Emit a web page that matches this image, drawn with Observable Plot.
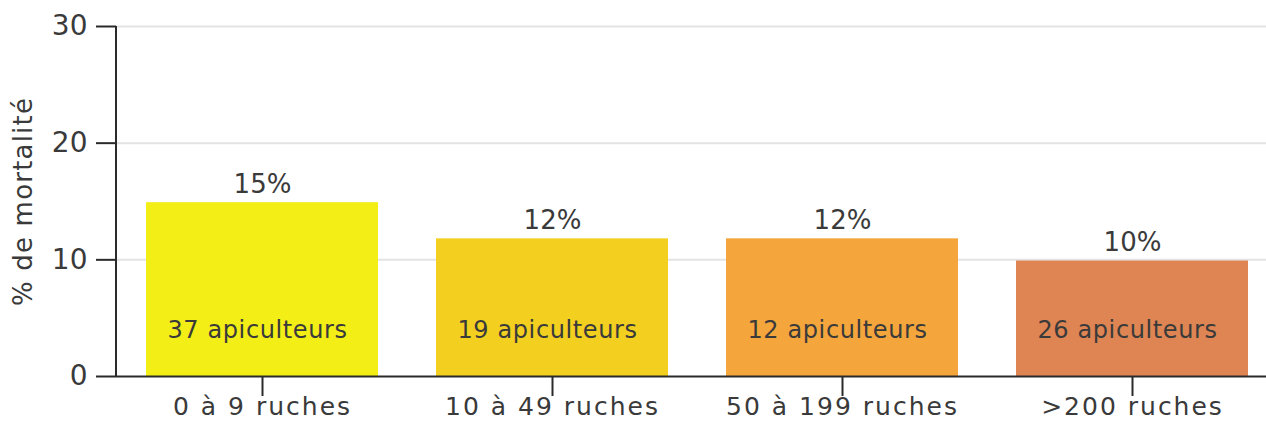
<!DOCTYPE html>
<html>
<head>
<meta charset="utf-8">
<script src="https://cdn.jsdelivr.net/npm/d3@7"></script>
<script src="https://cdn.jsdelivr.net/npm/@observablehq/plot@0.6"></script>
<style>
  html, body { margin: 0; padding: 0; background: #fff; }
  #chart svg { display: block; }
  #chart g[aria-label="x-axis tick label"] text { letter-spacing: 2px; }
  #chart g[aria-label="y-axis label"] text { font-size: 26px; letter-spacing: 1.2px; }
  #chart .count text { letter-spacing: 0.6px; }
</style>
</head>
<body>
<div id="chart"></div>
<script>
const categories = ["0 à 9 ruches", "10 à 49 ruches", "50 à 199 ruches", ">200 ruches"];
const mortality = [14.9, 11.8, 11.8, 9.9];
const valueLabels = ["15%", "12%", "12%", "10%"];
const countLabels = ["37 apiculteurs", "19 apiculteurs", "12 apiculteurs", "26 apiculteurs"];
const colors = ["#f4ee17", "#f3cf20", "#f4a63d", "#de8553"];
const yTicks = [0, 10, 20, 30];

const data = categories.map((c, i) => ({
  cat: c, value: mortality[i], label: valueLabels[i], count: countLabels[i]
}));

const font = "'DejaVu Sans', 'Noto Sans', sans-serif";
const ink = "#3a3a3a";

const leftLine = (index, scales, values, dim) => {
  const ns = "http://www.w3.org/2000/svg";
  const l = document.createElementNS(ns, "line");
  l.setAttribute("x1", dim.marginLeft);
  l.setAttribute("x2", dim.marginLeft);
  l.setAttribute("y1", scales.y(0));
  l.setAttribute("y2", scales.y(30));
  l.setAttribute("stroke", "#2a2a2a");
  l.setAttribute("stroke-width", 2);
  return l;
};

const chart = Plot.plot({
  width: 1266,
  height: 423,
  marginLeft: 116,
  marginRight: -11,
  marginTop: 26,
  marginBottom: 47,
  style: { fontFamily: font, fontSize: "24px", color: ink, background: "#fff", overflow: "hidden" },
  x: { domain: categories, paddingInner: 0.2, paddingOuter: 0.1, label: null },
  y: { domain: [0, 30], ticks: yTicks, label: "% de mortalité" },
  color: { domain: categories, range: colors },
  marks: [
    Plot.gridY(yTicks.slice(1), { stroke: "#e3e3e3", strokeOpacity: 1, strokeWidth: 2 }),
    Plot.barY(data, { x: "cat", y: "value", fill: "cat" }),
    Plot.text(data, { x: "cat", y: "value", text: "label", dy: -18, fontSize: 26, fill: ink }),
    Plot.text(data, { x: "cat", y: 4, text: "count", dx: -5, fontSize: 24, fill: ink, className: "count" }),
    Plot.axisY(yTicks, {
      tickSize: 20, tickPadding: 9, stroke: "#2a2a2a", strokeWidth: 2, fontSize: 28, fill: ink,
      label: "% de mortalité", labelAnchor: "center", labelOffset: 103, labelArrow: "none"
    }),
    Plot.axisX({ tickSize: 20, tickPadding: 1, stroke: "#2a2a2a", strokeWidth: 2, fontSize: 25, fill: ink, label: null }),
    Plot.ruleY([0], { stroke: "#2a2a2a", strokeWidth: 2 }),
    leftLine
  ]
});
document.getElementById("chart").appendChild(chart);
</script>
</body>
</html>
